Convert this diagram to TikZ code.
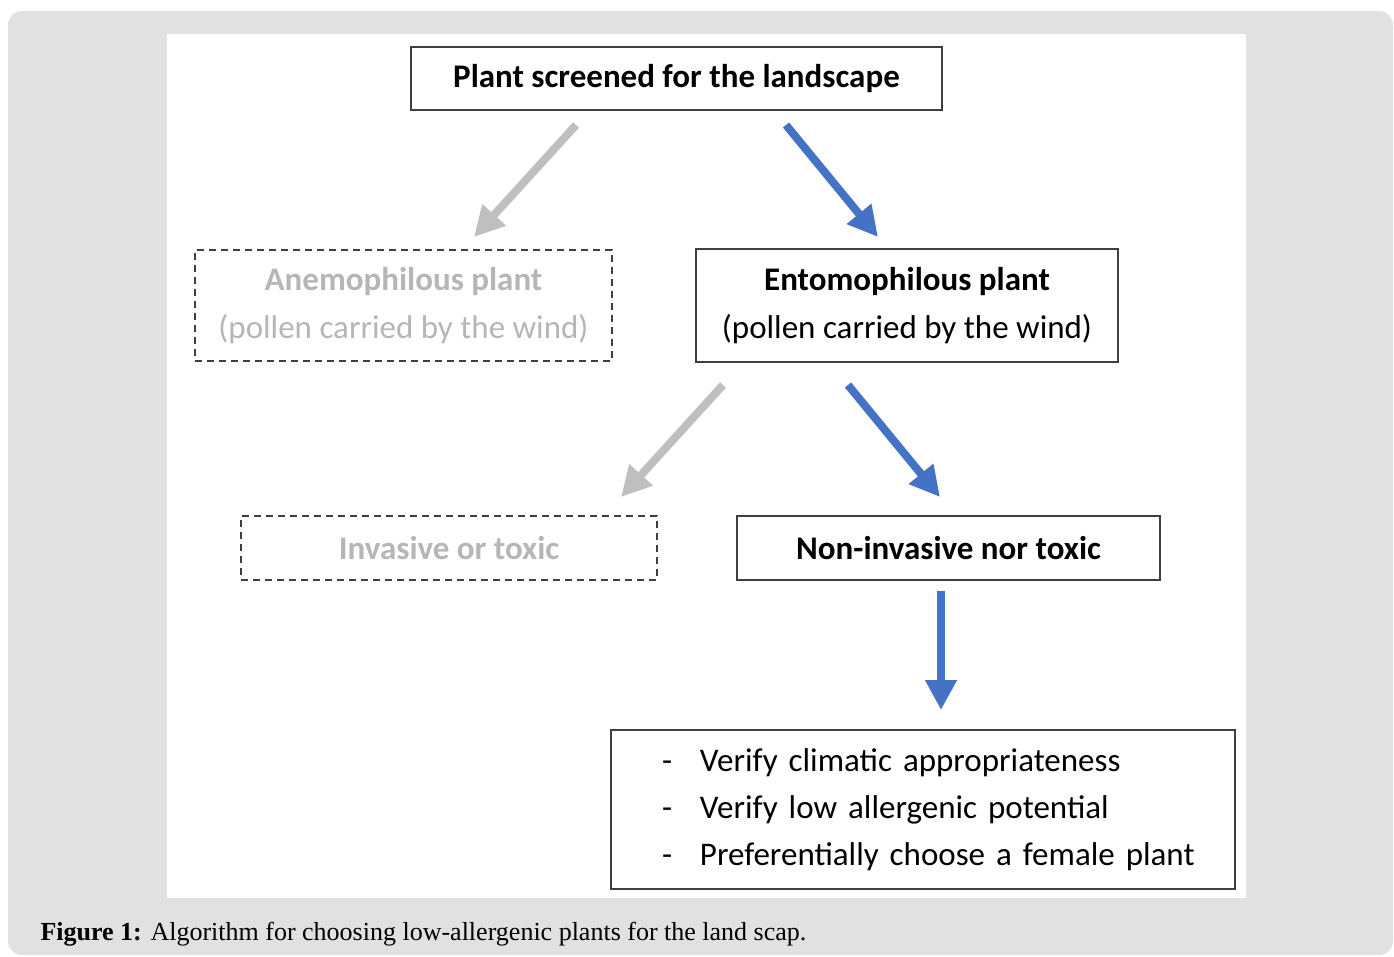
\documentclass[tikz,border=0pt]{standalone}
\usepackage{fontspec}
\setmainfont{Carlito}
\newfontfamily\capfont{Liberation Serif}
\usetikzlibrary{arrows.meta}
\definecolor{panelgray}{HTML}{E1E1E1}
\definecolor{edgegray}{HTML}{3F3F3F}
\definecolor{fadetext}{HTML}{B6B6B6}
\definecolor{fadearrow}{HTML}{BFBFBF}
\definecolor{flowblue}{HTML}{4472C4}
\newcommand{\listdash}{\hspace*{19pt}\makebox[38pt][l]{-}}
\tikzset{
    step box/.style = {draw=edgegray, line width=1.8pt, inner sep=0pt, align=center,
        font=\fontsize{33}{48}\selectfont},
    ruled out/.style = {step box, dash pattern=on 7pt off 5pt, text=fadetext},
}
\tikzset{
    keep arrow/.style = {draw=flowblue, line width=8pt, -{Triangle[width=30pt, length=30pt]}},
    drop arrow/.style = {keep arrow, draw=fadearrow},
}

\begin{document}
\begin{tikzpicture}[x=1pt, y=-1pt]
                \useasboundingbox (0,0) rectangle (1394,956);
                \fill[panelgray, rounded corners=14pt] (8,11) rectangle (1393,955);
                \fill[white] (167,34) rectangle (1246,898);

                \node[step box, minimum width=531pt, minimum height=63pt] (screen) at (676.5, 78.5) {\bfseries Plant screened for the landscape};

                \node[ruled out, minimum width=417pt, minimum height=111pt] (anemo) at (403.5, 305.5) {\bfseries Anemophilous plant\\(pollen carried by the wind)};
                \node[step box, minimum width=422pt, minimum height=113pt] (ento) at (907, 305.5) {\bfseries Entomophilous plant\\(pollen carried by the wind)};

                \node[ruled out, minimum width=416pt, minimum height=64pt] (toxic) at (449, 548) {\bfseries Invasive or toxic};
                \node[step box, minimum width=423pt, minimum height=64pt] (safe) at (948.5, 548) {\bfseries Non-invasive nor toxic};

                \node[step box, minimum width=624pt, minimum height=159pt, inner xsep=32pt, text width=560pt, align=left,
                    font=\fontsize{33}{47}\selectfont] (checks) at (923, 809.5)
                    {\listdash Verify climatic appropriateness\\
                     \listdash Verify low allergenic potential\\
                     \listdash Preferentially choose a female plant};

                \coordinate (s1) at (576, 125);
                \coordinate (e1) at (474, 237);
                \coordinate (s2) at (786, 125);
                \coordinate (e2) at (878, 237);
                \coordinate (s3) at (723, 385);
                \coordinate (e3) at (621, 497);
                \coordinate (s4) at (848, 385);
                \coordinate (e4) at (940, 497);
                \coordinate (s5) at (941, 591);
                \coordinate (e5) at (941, 710);

                \draw[drop arrow] (s1) -- (e1);
                \draw[keep arrow] (s2) -- (e2);
                \draw[drop arrow] (s3) -- (e3);
                \draw[keep arrow] (s4) -- (e4);
                \draw[keep arrow] (s5) -- (e5);

                \node[anchor=base west, font=\capfont\fontsize{26}{30}\selectfont] (caption) at (37, 940)
                    {\textbf{Figure 1:} Algorithm for choosing low-allergenic plants for the land scap.};
            \end{tikzpicture}
\end{document}
